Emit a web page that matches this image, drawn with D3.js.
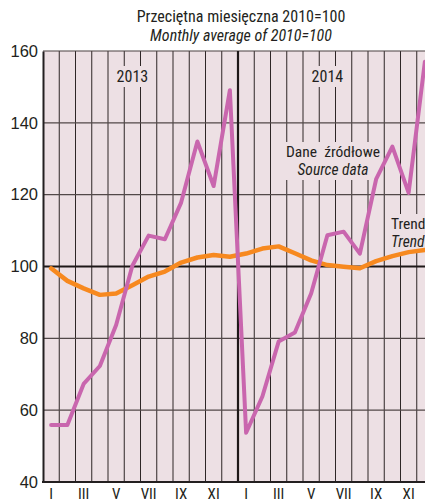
<!DOCTYPE html>
<html>
<head>
<meta charset="utf-8">
<script src="https://cdn.jsdelivr.net/npm/d3@7"></script>
<style>
  html, body { margin: 0; padding: 0; background: #ffffff; }
  svg { display: block; }
  text { font-family: "Liberation Sans Narrow", "Arial Narrow", "Roboto Condensed", sans-serif; fill: #231f20; }
</style>
</head>
<body>
<svg id="chart" width="425" height="503"></svg>
<script>
// ---- data ----
const years = ["2013", "2014"];
const monthLabels = ["I", "II", "III", "IV", "V", "VI", "VII", "VIII", "IX", "X", "XI", "XII"];
const sourceData = [
  55.9, 55.9, 67.3, 72.3, 83.7, 100.2, 108.6, 107.6, 117.8, 134.8, 122.4, 149.1,
  53.7, 63.8, 79.1, 81.6, 92.5, 108.7, 109.7, 103.6, 124.3, 133.4, 120.5, 157.0
];
const trendData = [
  99.5, 96.0, 93.9, 92.1, 92.5, 94.8, 97.2, 98.6, 101.1, 102.5, 103.2, 102.7,
  103.6, 105.0, 105.6, 103.7, 101.7, 100.4, 99.9, 99.5, 101.5, 102.9, 104.0, 104.6
];
const yTicks = [40, 60, 80, 100, 120, 140, 160];
const titleLines = ["Przeciętna miesięczna 2010=100", "Monthly average of 2010=100"];
const sourceLabel = ["Dane  źródłowe", "Source data"];
const trendLabel = ["Trend", "Trend"];

// ---- layout ----
const svg = d3.select("#chart");
const plotLeft = 43, plotTop = 51, plotBottom = 482, monthW = 16.25;
const nMonths = years.length * 12;
const plotRight = plotLeft + nMonths * monthW;

const x = d3.scaleLinear().domain([0, nMonths]).range([plotLeft, plotRight]);
const y = d3.scaleLinear().domain([40, 160]).range([plotBottom, plotTop]);

const bg = "#ede0e4";
const pink = "#c966ae";
const orange = "#f7891f";

// background
svg.append("rect").attr("x", plotLeft).attr("y", plotTop)
  .attr("width", plotRight - plotLeft).attr("height", plotBottom - plotTop).attr("fill", bg);

// vertical month grid lines
const months = d3.range(1, nMonths);
svg.append("g").selectAll("line").data(months.filter(m => m % 12 !== 0)).join("line")
  .attr("x1", d => x(d)).attr("x2", d => x(d))
  .attr("y1", plotTop).attr("y2", plotBottom)
  .attr("stroke", "#2e2626").attr("stroke-width", 1);

// horizontal grid lines
svg.append("g").selectAll("line").data(yTicks.filter(v => v !== 40 && v !== 160 && v !== 100)).join("line")
  .attr("x1", plotLeft).attr("x2", plotRight)
  .attr("y1", d => y(d)).attr("y2", d => y(d))
  .attr("stroke", "#524848").attr("stroke-width", 1.3);

// top border
svg.append("line").attr("x1", plotLeft).attr("x2", plotRight).attr("y1", plotTop).attr("y2", plotTop)
  .attr("stroke", "#4a4040").attr("stroke-width", 1.2);
// 100 baseline
svg.append("line").attr("x1", plotLeft).attr("x2", plotRight).attr("y1", y(100)).attr("y2", y(100))
  .attr("stroke", "#1e1818").attr("stroke-width", 2.2);
// year separator
svg.append("line").attr("x1", x(12)).attr("x2", x(12)).attr("y1", plotTop).attr("y2", plotBottom)
  .attr("stroke", "#1e1818").attr("stroke-width", 2.2);

// y axis
const yAxis = d3.axisLeft(y).tickValues(yTicks).tickSize(0).tickPadding(5).tickFormat(d3.format("d"));
const gy = svg.append("g").attr("transform", `translate(${plotLeft},0)`).call(yAxis);
gy.select(".domain").attr("stroke", "#231f20").attr("stroke-width", 2);
gy.selectAll("text").style("font-size", "16.5px").attr("fill", "#231f20")
  .style("font-family", '"Liberation Sans Narrow", "Arial Narrow", sans-serif');

// bottom axis line
svg.append("line").attr("x1", plotLeft - 1).attr("x2", plotRight).attr("y1", plotBottom).attr("y2", plotBottom)
  .attr("stroke", "#231f20").attr("stroke-width", 2);

// month labels (odd months)
const monthTicks = d3.range(nMonths).filter(i => i % 2 === 0);
svg.append("g").selectAll("text").data(monthTicks).join("text")
  .attr("x", d => x(d + 0.5)).attr("y", 499)
  .attr("text-anchor", "middle").style("font-size", "15px")
  .text(d => monthLabels[d % 12]);

// label with background box
function boxedLabel(lines, cx, y0, anchor, italic2, boxPad, fs, lh) {
  const g = svg.append("g");
  const rect = g.append("rect").attr("fill", bg);
  lines.forEach((t, i) => g.append("text")
    .attr("x", cx).attr("y", y0 + i * lh)
    .attr("text-anchor", anchor)
    .style("font-size", fs + "px")
    .style("white-space", "pre")
    .style("font-style", (i === 1 && italic2) ? "italic" : "normal")
    .text(t));
  const bb = g.node().getBBox();
  rect.attr("x", bb.x - boxPad).attr("y", bb.y - 1).attr("width", bb.width + 2 * boxPad).attr("height", bb.height + 2);
  return g;
}

// year labels
years.forEach((yr, i) => {
  boxedLabel([yr], x(i * 12 + 5.5), 82, "middle", false, 3, 16, 0);
});

boxedLabel(sourceLabel, 333, 157, "middle", true, 2, 15.5, 18);
boxedLabel(trendLabel, 391, 229, "start", true, 3, 15.5, 18);

// title
svg.append("g").selectAll("text").data(titleLines).join("text")
  .attr("x", 241).attr("y", (d, i) => 21.5 + i * 19)
  .attr("text-anchor", "middle")
  .style("font-size", "16px")
  .style("font-style", (d, i) => i === 1 ? "italic" : "normal")
  .text(d => d);

// lines
const line = d3.line().x((d, i) => x(i + 0.5)).y(d => y(d)).curve(d3.curveLinear);
svg.append("path").datum(trendData).attr("d", line)
  .attr("fill", "none").attr("stroke", orange).attr("stroke-width", 4.5)
  .attr("stroke-linejoin", "round").attr("stroke-linecap", "round");
svg.append("path").datum(sourceData).attr("d", line)
  .attr("fill", "none").attr("stroke", pink).attr("stroke-width", 4)
  .attr("stroke-linejoin", "round").attr("stroke-linecap", "round");
</script>
</body>
</html>
